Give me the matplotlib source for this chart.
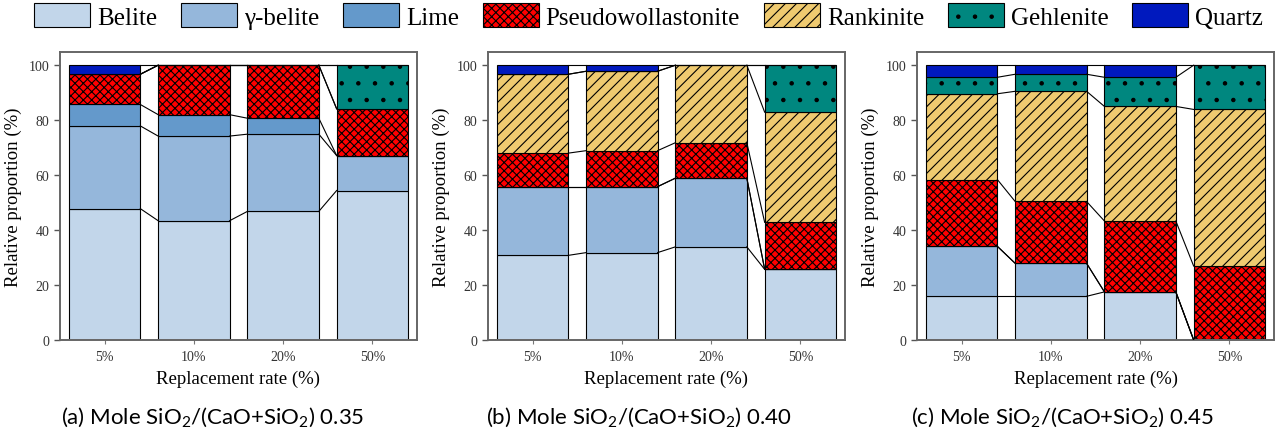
import matplotlib.pyplot as plt
import numpy as np

# Phase proportions (%) for each replacement rate, one array per phase
rates = ["5%", "10%", "20%", "50%"]
phases = ["Belite", "γ-belite", "Lime", "Pseudowollastonite", "Rankinite", "Gehlenite", "Quartz"]

# (a) SiO2/(CaO+SiO2) = 0.35
a_belite = [47.8, 43.4, 46.8, 54.4]
a_gbelite = [30.1, 30.8, 28.1, 12.7]
a_lime = [7.8, 7.8, 5.8, 0.0]
a_pseudo = [11.0, 18.0, 19.3, 17.0]
a_rankinite = [0.0, 0.0, 0.0, 0.0]
a_gehlenite = [0.0, 0.0, 0.0, 15.9]
a_quartz = [3.3, 0.0, 0.0, 0.0]

# (b) SiO2/(CaO+SiO2) = 0.40
b_belite = [30.8, 31.8, 33.9, 25.7]
b_gbelite = [25.0, 24.0, 25.0, 0.0]
b_lime = [0.0, 0.0, 0.0, 0.0]
b_pseudo = [12.2, 13.1, 12.9, 17.1]
b_rankinite = [28.7, 28.9, 28.2, 40.1]
b_gehlenite = [0.0, 0.0, 0.0, 17.1]
b_quartz = [3.3, 2.2, 0.0, 0.0]

# (c) SiO2/(CaO+SiO2) = 0.45
c_belite = [15.9, 15.9, 17.5, 0.0]
c_gbelite = [18.2, 12.0, 0.0, 0.0]
c_lime = [0.0, 0.0, 0.0, 0.0]
c_pseudo = [24.3, 22.5, 25.8, 26.9]
c_rankinite = [31.2, 40.1, 41.7, 57.0]
c_gehlenite = [6.0, 6.2, 10.6, 16.1]
c_quartz = [4.4, 3.3, 4.4, 0.0]

panels = [
    ("(a) Mole SiO$\\mathregular{_2}$/(CaO+SiO$\\mathregular{_2}$) 0.35",
     [a_belite, a_gbelite, a_lime, a_pseudo, a_rankinite, a_gehlenite, a_quartz]),
    ("(b) Mole SiO$\\mathregular{_2}$/(CaO+SiO$\\mathregular{_2}$) 0.40",
     [b_belite, b_gbelite, b_lime, b_pseudo, b_rankinite, b_gehlenite, b_quartz]),
    ("(c) Mole SiO$\\mathregular{_2}$/(CaO+SiO$\\mathregular{_2}$) 0.45",
     [c_belite, c_gbelite, c_lime, c_pseudo, c_rankinite, c_gehlenite, c_quartz]),
]

colors = ["#C2D6EA", "#95B7DB", "#6499CB", "#FF0000", "#EFCA70", "#00877F", "#0019BE"]
hatches = [None, None, None, "xxxx", "///", ".", None]

plt.rcParams["font.family"] = ["Liberation Serif", "DejaVu Serif"]
plt.rcParams["hatch.linewidth"] = 0.8

W, H = 1276, 435
fig = plt.figure(figsize=(W / 100, H / 100), dpi=100)

ax_left = [60, 488, 917]
ax_w, ax_top, ax_bot = 357, 53, 341
caption_x = [213, 639, 1062]
bw = 0.8

for k, (caption, data) in enumerate(panels):
    ax = fig.add_axes([ax_left[k] / W, (H - ax_bot) / H, ax_w / W, (ax_bot - ax_top) / H])
    x = np.arange(len(rates))
    bottom = np.zeros(len(rates))
    tops = []
    for name, vals, col, hat in zip(phases, data, colors, hatches):
        vals = np.array(vals)
        ax.bar(x, vals, bw, bottom=bottom, color=col, edgecolor="black",
               linewidth=0.8, hatch=hat, label=name, zorder=2)
        bottom = bottom + vals
        tops.append(bottom.copy())
    # connector lines between neighbouring bars
    for t in tops:
        for i in range(len(rates) - 1):
            ax.plot([x[i] + bw / 2, x[i + 1] - bw / 2], [t[i], t[i + 1]],
                    color="black", linewidth=0.8, zorder=3)

    ax.set_xlim(-0.5, 3.5)
    ax.set_ylim(0, 104.8)
    ax.set_yticks(range(0, 101, 20))
    ax.set_xticks(x)
    ax.set_xticklabels(rates)
    ax.tick_params(axis="x", length=3, width=0.8, pad=4, labelsize=10,
                   labelcolor="#333333", color="#777777")
    ax.tick_params(axis="y", length=4.5, width=1, pad=3, labelsize=10,
                   labelcolor="#333333", color="#555555")
    for s in ax.spines.values():
        s.set_color("#666666")
        s.set_linewidth(1.4)
    ax.set_xlabel("Replacement rate (%)", fontsize=13.5, labelpad=5)
    ax.set_ylabel("Relative proportion (%)", fontsize=13.5, labelpad=5)

    fig.text(caption_x[k] / W, (H - 424) / H, caption, ha="center", va="baseline",
             fontsize=16, family=["Lato", "DejaVu Sans"])

    if k == 0:
        handles, labels = ax.get_legend_handles_labels()

fig.legend(handles, labels, loc="upper left", bbox_to_anchor=(34 / W, 1 - 4 / H),
           ncol=7, frameon=False, fontsize=18, handlelength=2.24, handleheight=1.12,
           handletextpad=0.28, columnspacing=0.95, borderpad=0, borderaxespad=0)

fig.savefig("out.png", dpi=100)
